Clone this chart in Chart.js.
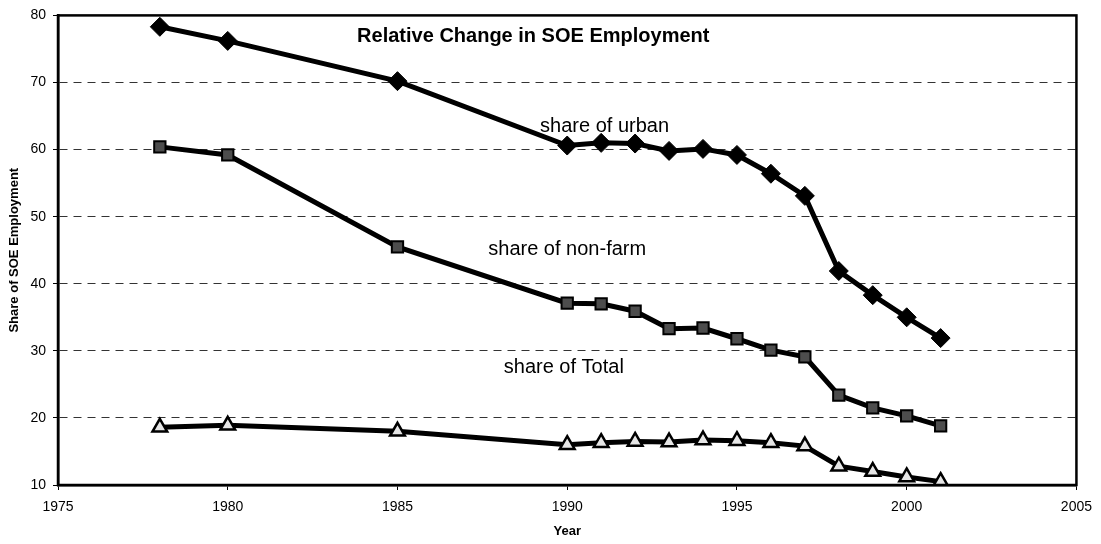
<!DOCTYPE html>
<html>
<head>
<meta charset="utf-8">
<script src="https://cdn.jsdelivr.net/npm/chart.js@4"></script>
<style>
  html, body { margin: 0; padding: 0; background: #fff; }
  #wrap { width: 1101px; height: 544px; }
</style>
</head>
<body>
<div id="wrap"><canvas id="myChart"></canvas></div>
<script>
// datos
const years = [1978, 1980, 1985, 1990, 1991, 1992, 1993, 1994, 1995, 1996, 1997, 1998, 1999, 2000, 2001];
const shareUrban = [78.3, 76.2, 70.2, 60.6, 61.0, 60.9, 59.8, 60.1, 59.2, 56.4, 53.1, 41.9, 38.3, 35.0, 31.9];
const shareNonFarm = [60.4, 59.2, 45.5, 37.1, 37.0, 35.9, 33.3, 33.4, 31.8, 30.1, 29.1, 23.4, 21.5, 20.3, 18.8];
const shareTotal = [18.6, 18.9, 18.0, 16.0, 16.3, 16.5, 16.4, 16.7, 16.6, 16.3, 15.8, 12.8, 12.0, 11.2, 10.5];

const chartTitle = { text: 'Relative Change in SOE Employment', x: 1989.0, y: 76.0 };
const labels = [
    { text: 'share of urban', x: 1991.1, y: 62.6 },
    { text: 'share of non-farm', x: 1990.0, y: 44.3 },
    { text: 'share of Total', x: 1989.9, y: 26.7 }
];

const FONT = '"Liberation Sans", Arial, sans-serif';

function toPoints(vals) {
    return years.map((yr, i) => ({ x: yr, y: vals[i] }));
}

// marco y textos sobre el area del grafico
const annotations = {
    id: 'annotations',
    afterDraw(chart) {
        const ctx = chart.ctx;
        const xs = chart.scales.x, ys = chart.scales.y;
        const a = chart.chartArea;
        ctx.save();
        ctx.strokeStyle = '#000';
        ctx.lineWidth = 2.5;
        ctx.strokeRect(a.left, a.top, a.right - a.left, a.bottom - a.top);
        ctx.fillStyle = '#000';
        ctx.textAlign = 'center';
        ctx.textBaseline = 'alphabetic';
        ctx.font = 'bold 20px ' + FONT;
        ctx.fillText(chartTitle.text, xs.getPixelForValue(chartTitle.x), ys.getPixelForValue(chartTitle.y));
        ctx.font = '20px ' + FONT;
        labels.forEach(l => {
            ctx.fillText(l.text, xs.getPixelForValue(l.x), ys.getPixelForValue(l.y));
        });
        ctx.restore();
    }
};

const ctx = document.getElementById('myChart').getContext('2d');
const myChart = new Chart(ctx, {
    type: 'line',
    data: {
        datasets: [{
            label: 'share of urban',
            data: toPoints(shareUrban),
            borderColor: '#000',
            borderWidth: 5,
            pointStyle: 'rectRot',
            pointRadius: 9.5,
            pointBackgroundColor: '#000',
            pointBorderColor: '#000',
            pointBorderWidth: 1,
            tension: 0
        }, {
            label: 'share of non-farm',
            data: toPoints(shareNonFarm),
            borderColor: '#000',
            borderWidth: 5,
            pointStyle: 'rect',
            pointRadius: 8,
            pointBackgroundColor: '#4d4d4d',
            pointBorderColor: '#000',
            pointBorderWidth: 2,
            tension: 0
        }, {
            label: 'share of Total',
            data: toPoints(shareTotal),
            borderColor: '#000',
            borderWidth: 5,
            pointStyle: 'triangle',
            pointRadius: 8.5,
            pointBackgroundColor: '#e6e6e6',
            pointBorderColor: '#000',
            pointBorderWidth: 2.5,
            tension: 0
        }]
    },
    options: {
        responsive: true,
        maintainAspectRatio: false,
        animation: false,
        layout: { padding: { top: 15, right: 23, left: 0, bottom: 0 } },
        plugins: {
            legend: { display: false },
            tooltip: { enabled: false }
        },
        scales: {
            x: {
                type: 'linear',
                min: 1975,
                max: 2005,
                afterFit: s => { s.height = 59; },
                ticks: {
                    stepSize: 5,
                    color: '#000',
                    padding: 9,
                    maxRotation: 0,
                    font: { family: FONT, size: 14 },
                    callback: v => String(v)
                },
                grid: { drawOnChartArea: false, drawTicks: true, tickLength: 5, color: '#000', tickColor: '#000' },
                border: { color: '#000', width: 2.5 },
                title: {
                    display: true,
                    text: 'Year',
                    color: '#000',
                    font: { family: FONT, size: 13, weight: 'bold' },
                    padding: { top: 0, bottom: 5 }
                }
            },
            y: {
                min: 10,
                max: 80,
                afterFit: s => { s.width = 58; },
                ticks: {
                    stepSize: 10,
                    color: '#000',
                    font: { family: FONT, size: 14 },
                    padding: 7
                },
                grid: {
                    color: c => (c.tick && (c.tick.value === 10 || c.tick.value === 80)) ? 'rgba(0,0,0,0)' : '#333',
                    lineWidth: 1,
                    drawTicks: true,
                    tickLength: 5,
                    tickColor: '#000'
                },
                border: { color: '#000', width: 2.5, dash: [8, 6] },
                title: {
                    display: true,
                    text: 'Share of SOE Employment',
                    color: '#000',
                    font: { family: FONT, size: 13, weight: 'bold' },
                    padding: { top: 7, bottom: 0 }
                }
            }
        }
    },
    plugins: [annotations]
});
</script>
</body>
</html>
